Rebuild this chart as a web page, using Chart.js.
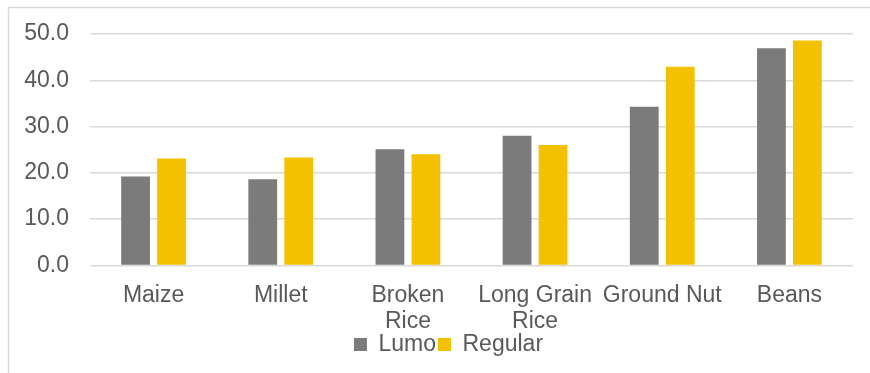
<!DOCTYPE html>
<html>
<head>
<meta charset="utf-8">
<script src="https://cdn.jsdelivr.net/npm/chart.js@4"></script>
<style>
  html, body { margin: 0; padding: 0; background: #fff; }
  #wrap { position: relative; width: 870px; height: 373px; }
</style>
</head>
<body>
<div id="wrap"><canvas id="priceChart"></canvas></div>
<script>
  const categories = ["Maize", "Millet", ["Broken", "Rice"], ["Long Grain", "Rice"], "Ground Nut", "Beans"];
  const lumoValues = [19.2, 18.6, 25.1, 28.0, 34.3, 46.9];
  const regularValues = [23.1, 23.3, 24.0, 26.0, 42.9, 48.6];

  const TEXT = "#595959";
  const GRID = "#d9d9d9";
  const FONT = { family: "'Liberation Sans', Arial, sans-serif", size: 23, lineHeight: 1.0 };

  // outer frame of the chart box (only top and left edges fall inside the page),
  // and nudge the legend so it sits under the plot rather than the whole canvas
  const framePlugin = {
    id: "frame",
    afterLayout(chart) {
      chart.legend.left += 11;
      chart.legend.right += 11;
    },
    beforeDraw(chart) {
      const ctx = chart.ctx;
      ctx.save();
      ctx.strokeStyle = GRID;
      ctx.lineWidth = 1.5;
      ctx.beginPath();
      ctx.moveTo(8.5, chart.height + 2);
      ctx.lineTo(8.5, 7.5);
      ctx.lineTo(chart.width + 2, 7.5);
      ctx.stroke();
      ctx.restore();
    },
  };

  new Chart(document.getElementById("priceChart"), {
    type: "bar",
    data: {
      labels: categories,
      datasets: [
        { label: "Lumo", data: lumoValues, backgroundColor: "#7b7b7b" },
        { label: "Regular", data: regularValues, backgroundColor: "#f4c100" },
      ],
    },
    options: {
      responsive: true,
      maintainAspectRatio: false,
      animation: false,
      datasets: { bar: { barPercentage: 0.8, categoryPercentage: 0.566 } },
      layout: { padding: { left: 22, right: 17, top: 34, bottom: 7 } },
      plugins: {
        tooltip: { enabled: false },
        legend: {
          position: "bottom",
          labels: { color: TEXT, font: FONT, boxWidth: 13, boxHeight: 13, padding: 2 },
        },
      },
      scales: {
        x: {
          // the two-line labels tuck in close above the legend
          afterFit(axis) { axis.height -= 21; },
          grid: { display: false, drawTicks: false },
          border: { display: false },
          ticks: { color: TEXT, font: { ...FONT, lineHeight: 1.1 }, padding: 18, maxRotation: 0, autoSkip: false },
        },
        y: {
          min: 0,
          max: 50,
          afterFit(axis) { axis.width = 68; },
          grid: { color: GRID, lineWidth: 1.4, drawTicks: false },
          border: { display: false },
          ticks: { color: TEXT, font: FONT, padding: 21, stepSize: 10, callback: v => v.toFixed(1) },
        },
      },
    },
    plugins: [framePlugin],
  });
</script>
</body>
</html>
